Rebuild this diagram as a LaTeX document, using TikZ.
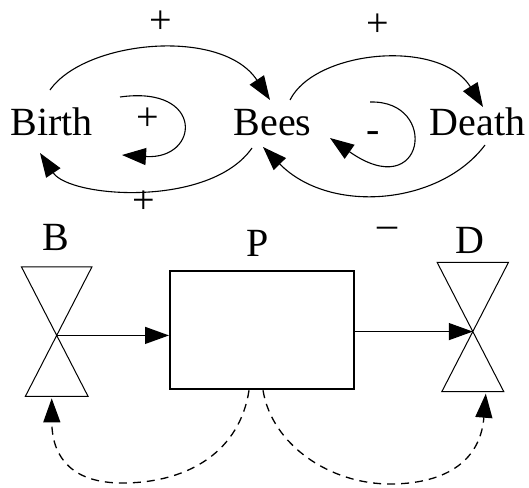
\documentclass[tikz,border=0pt]{standalone}
\usepackage{fontspec}
\setmainfont{Liberation Serif}
\usetikzlibrary{arrows.meta,calc}
\begin{document}
\begin{tikzpicture}[x=1pt,y=-1pt,
  txt/.style={inner sep=0pt,font=\fontsize{40}{48}\selectfont},
  arr/.style={-{Triangle[length=24pt,width=17pt]}},
  link/.style={line width=1.1pt,arr},
  flow/.style={line width=1.3pt,arr},
  info/.style={line width=1.3pt,dash pattern=on 8pt off 6pt,arr},
  valvebox/.style={rectangle,inner sep=0pt,minimum width=#1,minimum height=129pt},
  valveline/.style={line width=1pt},
  stockbox/.style={rectangle,draw,line width=2pt,inner sep=0pt,minimum width=184pt,minimum height=118.6pt}]
\useasboundingbox (0,0) rectangle (529,487);
% causal loop part
\node[txt,anchor=base] (Birth) at (51.5,135) {Birth};
\node[txt,anchor=base] (Bees) at (272.5,135) {Bees};
\node[txt,anchor=base] (Death) at (477.5,135) {Death};
\node[txt] (s1) at (161,22) {+};
\node[txt] (s2) at (147.5,119) {+};
\node[txt] (s3) at (144,202) {+};
\node[txt] (s4) at (378,25) {+};
\node[txt,anchor=base] (s5) at (373,142.3) {-};
\node[txt,anchor=base] (s6) at (387.5,237.3) {–};
\draw[link] ($(Birth.base)+(-1.5,-45)$) .. controls (85,40) and (222,27) .. ($(Bees.base)+(-2.5,-35)$);
\draw[link] ($(Bees.base)+(-20.5,13)$) .. controls (210,208) and (70,198) .. ($(Birth.base)+(-11.5,18)$);
\draw[link] ($(Bees.base)+(17.5,-35)$) .. controls (315,50) and (440,38) .. ($(Death.base)+(5.5,-28)$);
\draw[link] ($(Death.base)+(7.5,10)$) .. controls (440,205) and (330,215) .. ($(Bees.base)+(-9.5,12)$);
\coordinate (l1s) at (120,97);
\coordinate (l1e) at (122,155);
\draw[link] (l1s) .. controls (205,85) and (200,160) .. (l1e);
\coordinate (l2s) at (370,102);
\coordinate (l2e) at (330,138);
\draw[link] (l2s) .. controls (440,100) and (425,205) .. (l2e);
% stock and flow part
\node[txt,anchor=base] (Blab) at (55.5,250) {B};
\node[txt,anchor=base] (Plab) at (257.5,256.5) {P};
\node[txt,anchor=base] (Dlab) at (470,253) {D};
\node[stockbox] (stock) at (262,330) {};
\node[valvebox=70pt] (vB) at (56.7,331.65) {};
\coordinate (vBbl) at ($(vB.south west)+(3.85,0)$);
\coordinate (vBbr) at ($(vB.south east)+(-3.85,0)$);
\draw[valveline] (vB.north west) -- (vB.north east) -- (vBbl) -- (vBbr) -- cycle;
\coordinate (vBx) at (intersection of vB.north west--vBbr and vB.north east--vBbl);
\node[valvebox=71pt] (vD) at (472.8,327) {};
\coordinate (vDbl) at ($(vD.south west)+(4.7,0)$);
\coordinate (vDbr) at ($(vD.south east)+(-4.7,0)$);
\draw[valveline] (vD.north west) -- (vD.north east) -- (vDbl) -- (vDbr) -- cycle;
\coordinate (vDx) at (intersection of vD.north west--vDbr and vD.north east--vDbl);
\draw[flow] (vBx) -- (vBx -| stock.west);
\draw[flow] (stock.east |- vDx) -- (vDx);
\draw[info] ($(stock.south)+(-13,0)$) .. controls (240,450) and (190,483) .. (122,483) .. controls (75,483) and (52,460) .. ($(vB.south)+(-5,2)$);
\draw[info] ($(stock.south)+(1,0)$) .. controls (272,445) and (330,484) .. (390,484) .. controls (440,484) and (480,465) .. ($(vD.south)+(13,2)$);
\end{tikzpicture}
\end{document}
